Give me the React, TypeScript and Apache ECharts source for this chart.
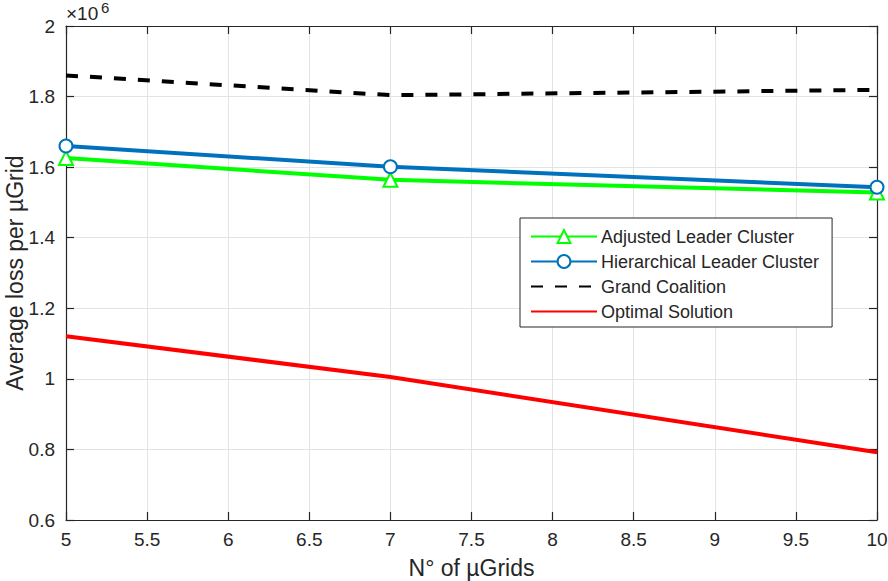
import React, { useEffect, useRef } from "react";
import * as echarts from "echarts";

const xValues = [5, 7, 10];
const adjustedLeader = [1626000, 1564000, 1528000];
const hierarchicalLeader = [1660000, 1601000, 1543000];
const grandCoalition = [1860000, 1804000, 1819000];
const optimalSolution = [1121000, 1005000, 792000];

const seriesNames = [
  "Adjusted Leader Cluster",
  "Hierarchical Leader Cluster",
  "Grand Coalition",
  "Optimal Solution",
];

const FONT = "Liberation Sans, Arial, Helvetica, sans-serif";
const TXT = "#262626";

const pairs = (ys: number[]) => xValues.map((x, i) => [x, ys[i]]);

export default function App() {
  const ref = useRef<HTMLDivElement>(null);
  useEffect(() => {
    document.body.style.margin = "0";
    if (!ref.current) return;
    const chart = echarts.init(ref.current, undefined, { renderer: "svg" });
    const axisLine = { show: true, lineStyle: { color: TXT, width: 1.2 } };
    const tick = { show: true, inside: true, length: 8, lineStyle: { color: TXT, width: 1.2 } };
    const noSymbol = { color: "rgba(0,0,0,0)", borderWidth: 0, opacity: 0 };
    chart.setOption({
      animation: false,
      backgroundColor: "#fff",
      textStyle: { fontFamily: FONT },
      grid: { left: 66, right: 11, top: 26, bottom: 61, containLabel: false, outerBoundsMode: "none" },
      legend: {
        orient: "vertical",
        left: 520,
        top: 218,
        data: [
          { name: seriesNames[0] },
          { name: seriesNames[1] },
          { name: seriesNames[2], itemStyle: noSymbol },
          { name: seriesNames[3], itemStyle: noSymbol },
        ],
        backgroundColor: "#fff",
        borderColor: TXT,
        borderWidth: 1,
        borderRadius: 0,
        padding: [8, 13, 5, 10],
        itemWidth: 66,
        itemHeight: 16,
        itemGap: 4,
        textStyle: { fontSize: 18, color: TXT, fontFamily: FONT, padding: [0, 0, 0, -1], lineHeight: 21 },
      },
      graphic: [
        { type: "text", x: 66, y: 4, style: { text: "×10", fontSize: 19, fill: TXT, fontFamily: FONT } },
        { type: "text", x: 101, y: 0, style: { text: "6", fontSize: 15, fill: TXT, fontFamily: FONT } },
        {
          type: "text",
          x: 15,
          y: 273,
          rotation: Math.PI / 2,
          style: {
            text: "Average loss per µGrid",
            fontSize: 23,
            fill: TXT,
            fontFamily: FONT,
            align: "center",
            verticalAlign: "middle",
            textAlign: "center",
            textVerticalAlign: "middle",
          },
        },
      ],
      xAxis: [
        {
          type: "value",
          min: 5,
          max: 10,
          interval: 0.5,
          name: "N° of µGrids",
          nameLocation: "middle",
          nameGap: 36,
          nameTextStyle: { fontSize: 23, color: TXT, fontFamily: FONT },
          axisLine,
          axisTick: tick,
          axisLabel: { fontSize: 19, color: TXT, margin: 10, fontFamily: FONT },
          splitLine: { show: true, lineStyle: { color: "#e3e3e3", width: 1 } },
        },
        {
          type: "value",
          position: "top",
          min: 5,
          max: 10,
          interval: 0.5,
          axisLine,
          axisTick: tick,
          axisLabel: { show: false },
          splitLine: { show: false },
        },
      ],
      yAxis: [
        {
          type: "value",
          min: 600000,
          max: 2000000,
          interval: 200000,
          axisLine,
          axisTick: tick,
          axisLabel: {
            fontSize: 19,
            color: TXT,
            margin: 11,
            fontFamily: FONT,
            formatter: (v: number) => String(+(v / 1e6).toFixed(1)),
          },
          splitLine: { show: true, lineStyle: { color: "#e3e3e3", width: 1 } },
        },
        {
          type: "value",
          position: "right",
          min: 600000,
          max: 2000000,
          interval: 200000,
          axisLine,
          axisTick: tick,
          axisLabel: { show: false },
          splitLine: { show: false },
        },
      ],
      series: [
        {
          name: seriesNames[0],
          type: "line",
          data: pairs(adjustedLeader),
          symbol: "emptyTriangle",
          symbolSize: 14,
          color: "#00ff00",
          lineStyle: { width: 4, color: "#00ff00" },
          itemStyle: { color: "#00ff00", borderWidth: 3 },
          z: 3,
        },
        {
          name: seriesNames[1],
          type: "line",
          data: pairs(hierarchicalLeader),
          symbol: "emptyCircle",
          symbolSize: 13,
          color: "#0072bd",
          lineStyle: { width: 4, color: "#0072bd" },
          itemStyle: { color: "#0072bd", borderWidth: 3 },
          z: 4,
        },
        {
          name: seriesNames[2],
          type: "line",
          data: pairs(grandCoalition),
          symbol: "none",
          color: "#000",
          lineStyle: { width: 4, color: "#000", type: [12, 12] },
          z: 3,
        },
        {
          name: seriesNames[3],
          type: "line",
          data: pairs(optimalSolution),
          symbol: "none",
          color: "#ff0000",
          lineStyle: { width: 4, color: "#ff0000" },
          z: 3,
        },
      ],
    });
    return () => chart.dispose();
  }, []);
  return (
    <div
      ref={ref}
      style={{ position: "absolute", left: 0, top: 0, width: 888, height: 581 }}
    />
  );
}
